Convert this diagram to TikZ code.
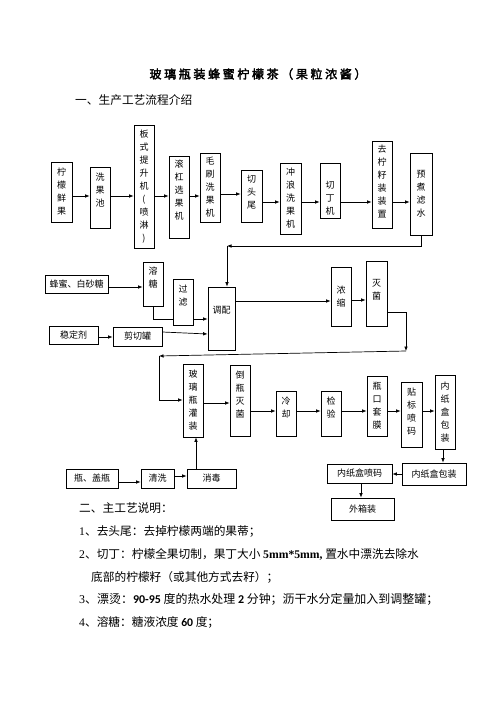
\documentclass[tikz,border=0pt]{standalone}
\usepackage{fontspec}
\setmainfont{Noto Sans CJK SC}
\newfontfamily\tms{Liberation Serif}
\newfontfamily\crl{Carlito}
\newfontfamily\ttl{Noto Sans CJK SC}[FakeBold=2.5, LetterSpace=22]
\usetikzlibrary{arrows.meta}
\begin{document}
\begin{tikzpicture}[x=1pt,y=-1pt,
 box/.style={draw, line width=0.75pt, inner sep=0pt, font=\fontsize{9}{13}\selectfont, align=center},
 lbl/.style={inner sep=0pt, font=\fontsize{9}{13}\selectfont, align=center},
 arr/.style={line width=0.7pt, -{Latex[length=4.5pt,width=3.6pt]}},
 txt/.style={inner sep=0pt, anchor=west, font=\fontsize{11.7}{14}\selectfont}]
\fill[white] (0,0) rectangle (496,702);
\useasboundingbox (0,0) rectangle (496,702);

% titles and texts
\node[inner sep=0pt, font=\ttl\fontsize{12}{14}\selectfont] (title) at (258,74) {玻璃瓶装蜂蜜柠檬茶（果粒浓酱）};
\node[txt] (h1) at (75,100) {一、生产工艺流程介绍};
\node[txt] (h2) at (79,508) {二、主工艺说明：};
\node[txt] (p1) at (79,531) {{\tms 1}、去头尾：去掉柠檬两端的果蒂；};
\node[txt] (p2) at (79,554) {{\tms 2}、切丁：柠檬全果切制，果丁大小 {\tms\bfseries 5mm*5mm,} 置水中漂洗去除水};
\node[txt] (p2b) at (91,577) {底部的柠檬籽（或其他方式去籽）；};
\node[txt] (p3) at (79,599) {\resizebox{359pt}{!}{{\tms 3}、漂烫：{\crl\bfseries 90-95} 度的热水处理 {\crl\bfseries 2} 分钟；沥干水分定量加入到调整罐；}};
\node[txt] (p4) at (79,622) {{\tms 4}、溶糖：糖液浓度 {\crl\bfseries 60} 度；};

% row 1
\node[box, minimum width=21pt, minimum height=60pt] (lm) at (61.5,192) {柠\\檬\\鲜\\果};
\node[box, minimum width=20pt, minimum height=61pt, label={[lbl,yshift=7pt]center:{洗\\果\\池}}] (xgc) at (100,197.5) {};
\node[box, minimum width=20pt, minimum height=123pt] (bs) at (144,186.5) {板\\式\\提\\升\\机\\(\\喷\\淋\\)};
\node[box, minimum width=20pt, minimum height=82pt, label={[lbl,yshift=6.5pt]center:{滚\\杠\\选\\果\\机}}] (gg) at (179,197) {};
\node[box, minimum width=20pt, minimum height=69pt] (ms) at (210,187.5) {毛\\刷\\洗\\果\\机};
\node[box, minimum width=21pt, minimum height=52pt, label={[lbl,yshift=3.5pt]center:{切\\头\\尾}}] (qt) at (251.5,196) {};
\node[box, minimum width=21pt, minimum height=71pt] (cl) at (290.5,198.5) {冲\\浪\\洗\\果\\机};
\node[box, minimum width=20pt, minimum height=55pt, label={[lbl,yshift=-7.5pt]center:{切\\丁\\机}}] (qd) at (330,190.5) {};
\node[box, minimum width=20pt, minimum height=87pt, label={[lbl,yshift=3pt]center:{去\\柠\\籽\\装\\装\\置}}] (qz) at (382,184.5) {};
\node[box, minimum width=22pt, minimum height=82pt] (yz) at (421,194) {预\\煮\\滤\\水};

\draw[arr] (lm.east |- 0,196) -- (xgc.west |- 0,196);
\draw[arr] (xgc.east |- 0,196) -- (bs.west |- 0,196);
\draw[arr] (bs.east |- 0,196) -- (gg.west |- 0,196);
\draw[arr] (gg.east |- 0,196) -- (ms.west |- 0,196);
\draw[arr] (ms.east |- 0,194) -- (qt.west |- 0,194);
\draw[arr] (qt.east |- 0,202) -- (cl.west |- 0,202);
\draw[arr] (cl.east |- 0,202) -- (qd.west |- 0,202);
\draw[arr] (qd.east |- 0,202) -- (qz.west |- 0,202);
\draw[arr] (qz.east |- 0,202) -- (yz.west |- 0,202);

% row 2
\node[box, minimum width=63pt, minimum height=18pt] (fm) at (76.5,284) {蜂蜜、白砂糖};
\node[box, minimum width=20pt, minimum height=44pt, label={[lbl,yshift=6.5pt]center:{溶\\糖}}] (rt) at (153,284) {};
\node[box, minimum width=27pt, minimum height=63pt, label={[lbl,yshift=8.5pt]center:{调配}}] (tp) at (221.5,318.5) {};
\draw[arr] (rt.south) |- (tp.west |- 0,319);
\node[box, fill=white, minimum width=20pt, minimum height=46pt, label={[lbl,yshift=6.5pt]center:{过\\滤}}] (gl) at (183,302) {};
\node[box, minimum width=49pt, minimum height=18pt] (wd) at (73.5,335) {稳定剂};
\node[box, minimum width=49pt, minimum height=19pt] (jq) at (137.5,336.5) {剪切罐};
\node[box, minimum width=20pt, minimum height=59pt] (ns) at (341,296.5) {浓\\缩};
\node[box, minimum width=21pt, minimum height=65pt, label={[lbl,yshift=3.5pt]center:{灭\\菌}}] (mj) at (376.5,293.5) {};

\coordinate (c1) at (227,246);
\draw[arr] (yz.south) |- (c1);
\draw[arr] (c1) -- (c1 |- tp.north);

\draw[arr] (fm.east |- 0,287) -- (rt.west |- 0,287);
\draw[arr] (wd.east |- 0,337) -- (jq.west |- 0,337);
\draw[arr] (jq.east |- 0,332) -- (tp.west |- 0,334);
\draw[arr] (tp.east |- 0,301) -- (ns.west |- 0,301);
\draw[arr] (ns.east |- 0,300) -- (mj.west |- 0,300);

% row 3
\node[box, minimum width=20pt, minimum height=73pt] (bl) at (193,400.5) {玻\\璃\\瓶\\灌\\装};
\node[box, minimum width=20pt, minimum height=71pt, label={[lbl,yshift=6pt]center:{倒\\瓶\\灭\\菌}}] (dp) at (240,400.5) {};
\node[box, minimum width=20pt, minimum height=45pt, label={[lbl,yshift=6pt]center:{冷\\却}}] (lq) at (286,413.5) {};
\node[box, minimum width=20pt, minimum height=45pt, label={[lbl,yshift=6pt]center:{检\\验}}] (jy) at (331,413.5) {};
\node[box, minimum width=20pt, minimum height=60pt] (pk) at (377,406) {瓶\\口\\套\\膜};
\node[box, minimum width=21pt, minimum height=65pt, label={[lbl,yshift=3pt]center:{贴\\标\\喷\\码}}] (tb) at (411.5,414.5) {};
\node[box, minimum width=20pt, minimum height=74pt] (nz) at (445,412) {内\\纸\\盒\\包\\装};
\node[box, minimum width=52pt, minimum height=19pt] (pg) at (92,478.5) {瓶、盖瓶};
\node[box, minimum width=33pt, minimum height=19pt] (qx) at (157.5,478.5) {清洗};
\node[box, minimum width=49pt, minimum height=19pt] (xd) at (211.5,478.5) {消毒};
\node[box, minimum width=64pt, minimum height=22pt] (nzh) at (434,474) {内纸盒包装};
\node[box, minimum width=65pt, minimum height=19pt] (pm) at (359.5,473.5) {内纸盒喷码};
\node[box, minimum width=63pt, minimum height=22pt] (wx) at (362.5,509) {外箱装};

\coordinate (c2) at (406,351);
\coordinate (c3) at (159,356);
\draw[arr] (mj.east |- 0,312) -| (c2);
\draw[arr] (c2) -- (c3);
\draw[arr] (c3) |- (bl.west |- 0,400);

\draw[arr] (bl.east |- 0,403) -- (dp.west |- 0,403);
\draw[arr] (dp.east |- 0,411) -- (lq.west |- 0,411);
\draw[arr] (lq.east |- 0,411) -- (jy.west |- 0,411);
\draw[arr] (jy.east |- 0,411) -- (pk.west |- 0,411);
\draw[arr] (pk.east |- 0,411) -- (tb.west |- 0,411);
\draw[arr] (tb.east |- 0,411) -- (nz.west |- 0,411);
\draw[arr] (nz.south -| 443,0) -- (nzh.north -| 443,0);
\draw[arr] (nzh.west |- 0,474) -- (pm.east |- 0,474);
\draw[arr] (pm.south -| 361,0) -- (wx.north -| 361,0);
\draw[arr] (pg.east |- 0,482) -- (qx.west |- 0,482);
\draw[arr] (qx.east |- 0,476) -- (xd.west |- 0,476);
\draw[arr] (xd.north -| 196,0) -- (bl.south -| 196,0);
\end{tikzpicture}
\end{document}
